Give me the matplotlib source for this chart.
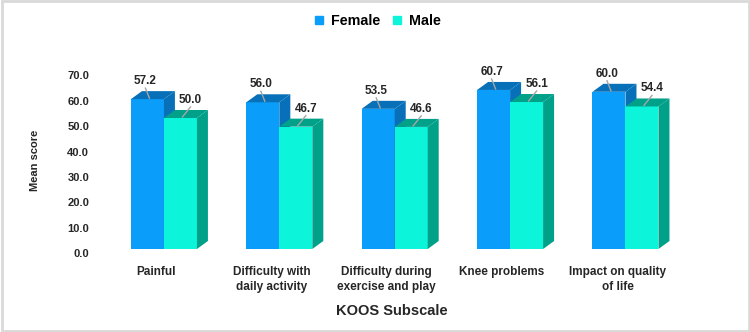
import numpy as np
import matplotlib.pyplot as plt
from matplotlib.patches import Polygon, Rectangle
from matplotlib.lines import Line2D

plt.rcParams['font.family'] = ['Liberation Sans', 'DejaVu Sans']

# Data
subscales = ['Painful', 'Difficulty with\ndaily activity', 'Difficulty during\nexercise and play',
             'Knee problems', 'Impact on quality\nof life']
female = [57.2, 56.0, 53.5, 60.7, 60.0]
male = [50.0, 46.7, 46.6, 56.1, 54.4]
yticks = np.arange(0, 71, 10)

# colours: front face, top/side face
f_front, f_dark = '#0A9EFA', '#0870B8'
m_front, m_dark = '#0CF5DA', '#00A089'
txt = '#262626'

W, H = 750, 332
fig = plt.figure(figsize=(W / 100, H / 100), dpi=100)

# axes placement in pixels (bar base at 249 px, value 70 at 65.6 px)
base_px, top_px = 249, 65.6
px_y = (base_px - top_px) / 70
ymin = -4
ax_l, ax_r = 94.7, 694.7
ax_b = base_px - ymin * px_y
ax = fig.add_axes([ax_l / W, 1 - ax_b / H, (ax_r - ax_l) / W, (ax_b - top_px) / H])
ax.set_xlim(-0.6, 4.6)
ax.set_ylim(ymin, 70)
px_x = (ax_r - ax_l) / 5.2

dx = 11 / px_x   # depth offset
dy = 8 / px_y
w = 33 / px_x    # bar width


def bar3d(x0, h, front, dark):
    ax.add_patch(Rectangle((x0, 0), w, h, fc=front, ec='none', clip_on=False, zorder=2))
    side = [(x0 + w, 0), (x0 + w + dx, dy), (x0 + w + dx, h + dy), (x0 + w, h)]
    top = [(x0, h), (x0 + dx, h + dy), (x0 + w + dx, h + dy), (x0 + w, h)]
    ax.add_patch(Polygon(side, closed=True, fc=dark, ec='none', clip_on=False, zorder=2))
    ax.add_patch(Polygon(top, closed=True, fc=dark, ec='none', clip_on=False, zorder=2))


def value_label(xc, h, shift_px):
    lx = xc + shift_px / px_x
    ax.plot([lx, xc + 2 / px_x], [h + 4.2, h + 0.4], color='#A6A6A6', lw=1, zorder=3, clip_on=False)
    ax.text(lx, h + 6.9, f'{h:.1f}', ha='center', va='center', fontsize=8.5,
            fontweight='bold', color=txt, zorder=4)


x = np.arange(len(subscales))
for i in x:
    bar3d(i - w, female[i], f_front, f_dark)
    bar3d(i, male[i], m_front, m_dark)
for i in x:
    value_label(i - w / 2, female[i], -2)
    value_label(i + w / 2, male[i], 10)
    ax.text(i - 8 / px_x, -6.6, subscales[i], ha='center', va='top', fontsize=8.5,
            fontweight='bold', color=txt, linespacing=1.25, clip_on=False)

# y ticks (sit slightly lower than bar scale, like the 3D back wall)
ax.set_yticks(yticks * 0.97 - 1.6)
ax.set_yticklabels([f'{v:.1f}' for v in yticks])
ax.tick_params(axis='y', length=0, pad=4, labelsize=8, labelcolor=txt)
for lab in ax.get_yticklabels():
    lab.set_fontweight('bold')
ax.set_xticks([])
for s in ax.spines.values():
    s.set_visible(False)
ax.patch.set_alpha(0)

fig.text(35 / W, 1 - 160 / H, 'Mean score', rotation=90, ha='center', va='center',
         fontsize=8, fontweight='bold', color=txt)
fig.text(392 / W, 1 - 311 / H, 'KOOS Subscale', ha='center', va='center',
         fontsize=10.5, fontweight='bold', color=txt)

handles = [Line2D([], [], ls='none', marker='s', ms=5.5, color=f_front),
           Line2D([], [], ls='none', marker='s', ms=5.5, color=m_front)]
fig.legend(handles, ['Female', 'Male'], loc='center', bbox_to_anchor=(377 / W, 1 - 21 / H),
           ncol=2, frameon=False, handlelength=0.8, handletextpad=0.4, columnspacing=0.8,
           prop={'weight': 'bold', 'size': 10.3})

fig.patches.append(Rectangle((0.002, 0.004), 0.996, 0.992, transform=fig.transFigure,
                             fill=False, ec='#D9D9D9', lw=2))

fig.savefig('out.png', dpi=100)
